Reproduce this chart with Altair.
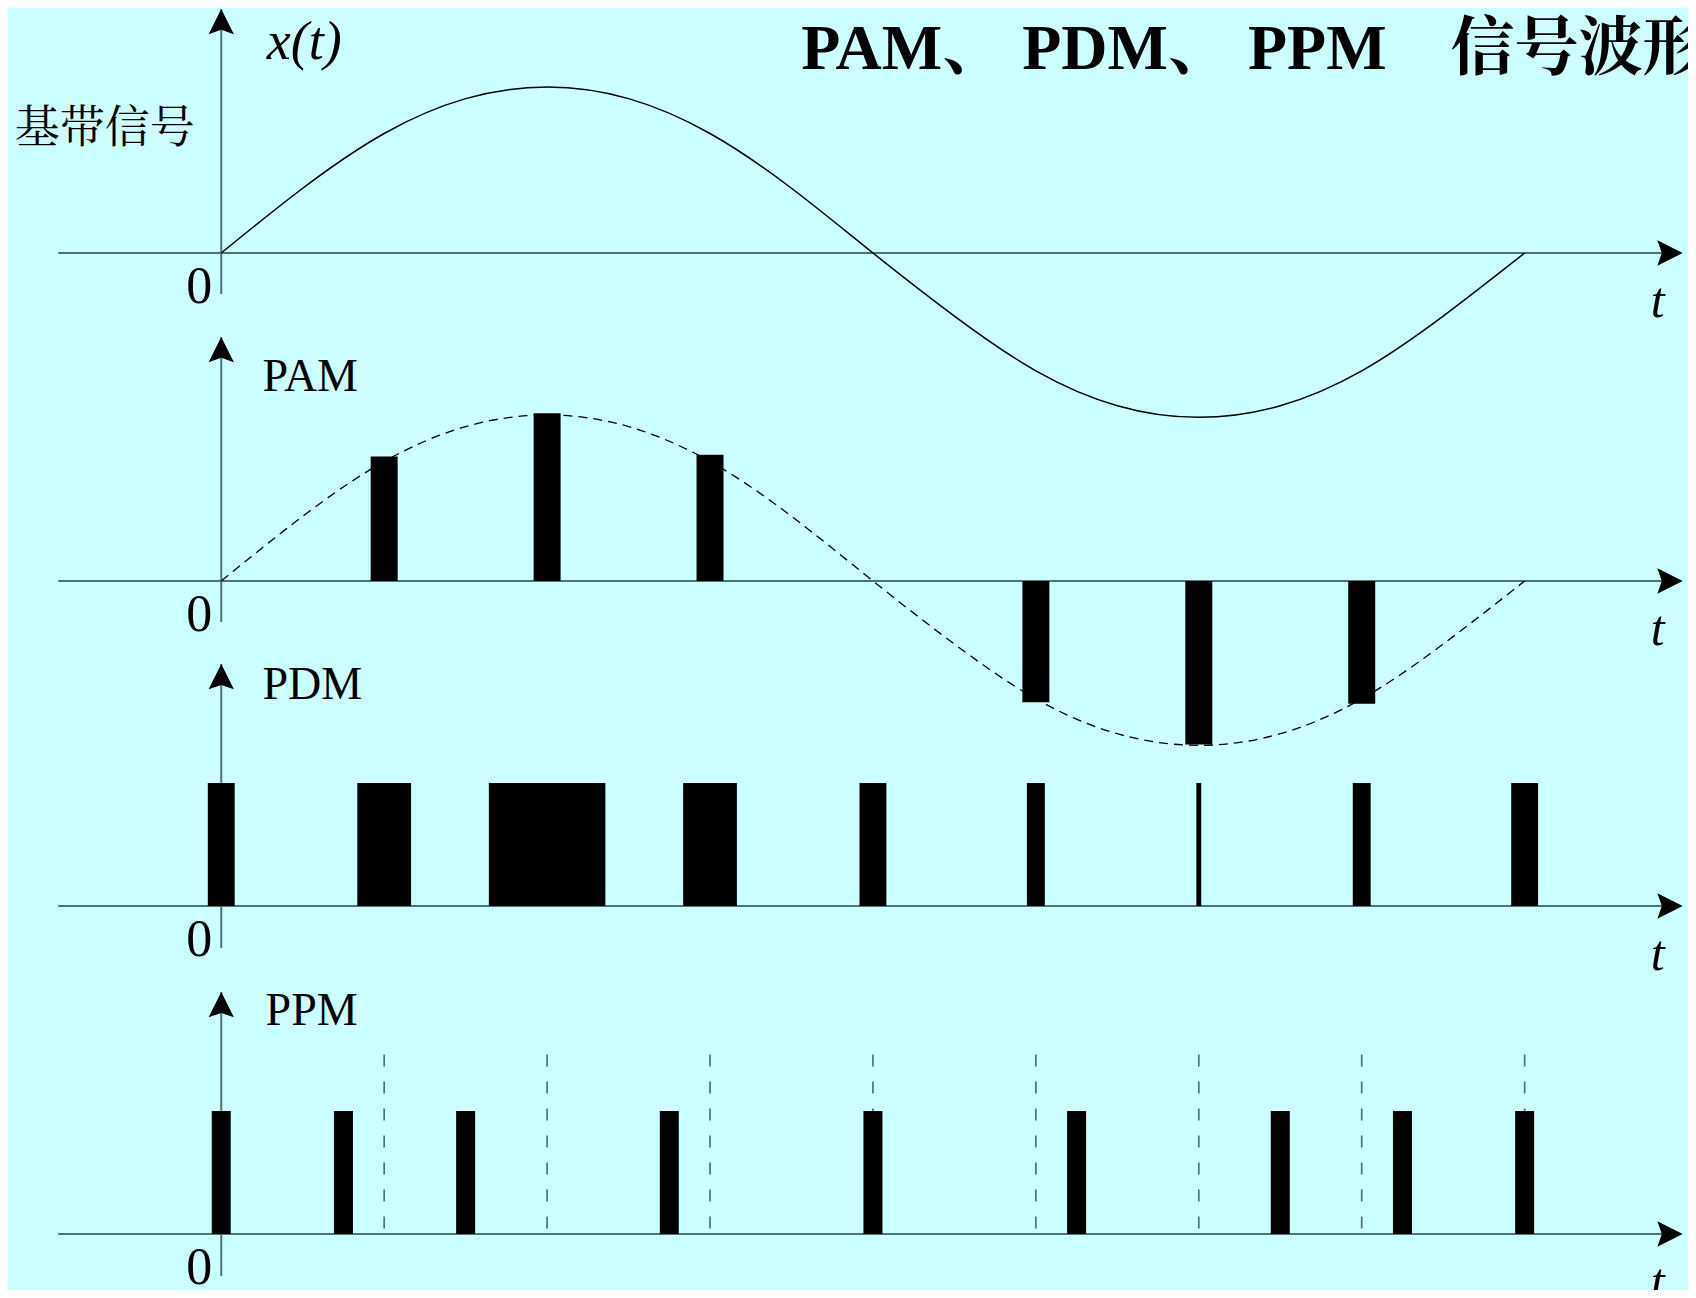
import altair as alt
import pandas as pd

# ---------------- data ----------------
# time axis in units of one sampling interval (T/8)
sig_k = [0, 0.5, 1, 1.5, 2, 2.5, 3, 3.5, 4, 4.5, 5, 5.5, 6, 6.5, 7, 7.5, 8]
sig_v = [0, 0.39, 0.72, 0.93, 1.0, 0.93, 0.72, 0.39, 0, -0.38, -0.71, -0.92, -0.99, -0.92, -0.71, -0.38, 0]

pam_k = [1, 2, 3, 5, 6, 7]
pam_v = [0.75, 1.01, 0.76, -0.73, -0.985, -0.74]

pdm_k = [0, 1, 2, 3, 4, 5, 6, 7, 8]
pdm_w = [0.165, 0.33, 0.715, 0.33, 0.165, 0.11, 0.03, 0.11, 0.165]
pdm_h = [1, 1, 1, 1, 1, 1, 1, 1, 1]

ppm_k = [0, 0.75, 1.5, 2.75, 4.0, 5.25, 6.5, 7.25, 8.0]
ppm_h = [1, 1, 1, 1, 1, 1, 1, 1, 1]

frame_k = [1, 2, 3, 4, 5, 6, 7, 8]
frame_top = [1.46] * 8

title_text = "PAM、 PDM、 PPM\u3000信号波形"
panel_labels = ["PAM", "PDM", "PPM"]

# ---------------- layout / style ----------------
W, H = 1680, 1282
X0_PX, PX_PER_K = 209.5, 163.9
XDOM = [-X0_PX / PX_PER_K, (W - X0_PX) / PX_PER_K]
BASE = [245, 573, 898, 1226]
UNIT = [166, 166, 123, 123]
AXIS_TOP = [1.47, 1.47, 1.967, 1.967]
AXIS_BOT = [-0.247, -0.247, -0.341, -0.341]
K_START, K_TIP = -1.0, 8.97

AX_COLOR = "#4d7474"
SERIF = "'Liberation Serif', 'Times New Roman', serif"
CJK = "'Liberation Serif', 'Noto Serif CJK SC', 'Noto Sans CJK SC', serif"
CJK_PLAIN = "'Noto Serif CJK SC', 'Noto Sans CJK SC', sans-serif"
ARROW_R = "M0,0L-2,-1L-1.65,0L-2,1Z"
ARROW_U = "M0,0L-1,2L0,1.65L1,2Z"
ARROW_SIZE = 640


def X(field):
    return alt.X(field, type="quantitative", scale=alt.Scale(domain=XDOM, nice=False, zero=False), axis=None)


def Y(i, field):
    b, s = BASE[i], UNIT[i]
    return alt.Y(field, type="quantitative",
                 scale=alt.Scale(domain=[-(H - b) / s, b / s], nice=False, zero=False), axis=None)


def axes(i):
    hl = pd.DataFrame({"k": [K_START], "k2": [K_TIP - 0.1], "v": [0]})
    vl = pd.DataFrame({"k": [0], "v": [AXIS_BOT[i]], "v2": [AXIS_TOP[i]]})
    ar = pd.DataFrame({"k": [K_TIP], "v": [0]})
    au = pd.DataFrame({"k": [0], "v": [AXIS_TOP[i]]})
    lab = pd.DataFrame({"k": [0], "v": [0], "txt": ["0"]})
    tl = pd.DataFrame({"k": [K_TIP], "v": [0], "txt": ["t"]})
    return [
        alt.Chart(hl).mark_rule(color=AX_COLOR, strokeWidth=2).encode(x=X("k"), x2="k2:Q", y=Y(i, "v")),
        alt.Chart(vl).mark_rule(color=AX_COLOR, strokeWidth=2).encode(x=X("k"), y=Y(i, "v"), y2="v2:Q"),
        alt.Chart(ar).mark_point(shape=ARROW_R, filled=True, size=ARROW_SIZE, color="black", opacity=1,
                                 strokeWidth=0).encode(x=X("k"), y=Y(i, "v")),
        alt.Chart(au).mark_point(shape=ARROW_U, filled=True, size=ARROW_SIZE, color="black", opacity=1,
                                 strokeWidth=0).encode(x=X("k"), y=Y(i, "v")),
        alt.Chart(lab).mark_text(font=SERIF, fontSize=52, dx=-22, dy=50, align="center",
                                 baseline="alphabetic", color="black").encode(x=X("k"), y=Y(i, "v"), text="txt:N"),
        alt.Chart(tl).mark_text(font=SERIF, fontSize=50, fontStyle="italic", dx=-25, dy=64, align="center",
                                baseline="alphabetic", color="black").encode(x=X("k"), y=Y(i, "v"), text="txt:N"),
    ]


sig = pd.DataFrame({"k": sig_k, "v": sig_v})

# ---- panel 1: baseband signal ----
p1_text = pd.DataFrame({"k": [0.28], "v": [1.169], "txt": ["x(t)"]})
p1_cn = pd.DataFrame({"k": [-1.267], "v": [0.747], "txt": ["基带信号"]})
p1_title = pd.DataFrame({"k": [3.56], "v": [1.108], "txt": [title_text]})
panel1 = alt.layer(
    *axes(0),
    alt.Chart(sig).mark_line(color="black", strokeWidth=1.5, interpolate="natural").encode(x=X("k"), y=Y(0, "v")),
    alt.Chart(p1_text).mark_text(font=SERIF, fontSize=54, fontStyle="italic", align="left",
                                 baseline="alphabetic", color="black").encode(x=X("k"), y=Y(0, "v"), text="txt:N"),
    alt.Chart(p1_cn).mark_text(font=CJK_PLAIN, fontSize=45, fontWeight="normal", align="left",
                               baseline="middle", color="black").encode(x=X("k"), y=Y(0, "v"), text="txt:N"),
    alt.Chart(p1_title).mark_text(font=CJK, fontSize=64, fontWeight="bold", align="left",
                                  baseline="alphabetic", color="black").encode(x=X("k"), y=Y(0, "v"), text="txt:N"),
)

# ---- panel 2: PAM ----
pam = pd.DataFrame({"k": pam_k, "v": pam_v, "zero": [0] * len(pam_k)})
lab2 = pd.DataFrame({"k": [0.2534], "v": [1.1416], "txt": [panel_labels[0]]})
panel2 = alt.layer(
    *axes(1),
    alt.Chart(sig).mark_line(color="black", strokeWidth=1.3, strokeDash=[9, 6], interpolate="natural").encode(
        x=X("k"), y=Y(1, "v")),
    alt.Chart(pam).mark_bar(size=27, color="black").encode(x=X("k"), y=Y(1, "v"), y2="zero:Q"),
    alt.Chart(lab2).mark_text(font=SERIF, fontSize=46, align="left", baseline="alphabetic",
                              color="black").encode(x=X("k"), y=Y(1, "v"), text="txt:N"),
)

# ---- panel 3: PDM ----
pdm = pd.DataFrame({"k": pdm_k, "w": pdm_w, "h": pdm_h, "zero": [0] * len(pdm_k)})
lab3 = pd.DataFrame({"k": [0.2534], "v": [1.683], "txt": [panel_labels[1]]})
panel3 = alt.layer(
    *axes(2),
    alt.Chart(pdm).transform_calculate(x0="datum.k - datum.w / 2", x1="datum.k + datum.w / 2")
    .mark_rect(color="black").encode(x=X("x0"), x2="x1:Q", y=Y(2, "h"), y2="zero:Q"),
    alt.Chart(lab3).mark_text(font=SERIF, fontSize=46, align="left", baseline="alphabetic",
                              color="black").encode(x=X("k"), y=Y(2, "v"), text="txt:N"),
)

# ---- panel 4: PPM ----
ppm = pd.DataFrame({"k": ppm_k, "h": ppm_h, "zero": [0] * len(ppm_k)})
frames = pd.DataFrame({"k": frame_k, "top": frame_top, "zero": [0] * len(frame_k)})
lab4 = pd.DataFrame({"k": [0.272], "v": [1.699], "txt": [panel_labels[2]]})
panel4 = alt.layer(
    *axes(3),
    alt.Chart(frames).mark_rule(color=AX_COLOR, strokeWidth=1.7, strokeDash=[12, 15]).encode(
        x=X("k"), y=Y(3, "top"), y2="zero:Q"),
    alt.Chart(ppm).mark_bar(size=19, color="black").encode(x=X("k"), y=Y(3, "h"), y2="zero:Q"),
    alt.Chart(lab4).mark_text(font=SERIF, fontSize=46, align="left", baseline="alphabetic",
                              color="black").encode(x=X("k"), y=Y(3, "v"), text="txt:N"),
)

chart = (
    alt.layer(panel1, panel2, panel3, panel4)
    .resolve_scale(y="independent")
    .properties(width=W, height=H, padding=0, autosize=alt.AutoSizeParams(type="none"))
    .configure(background="#CCFFFF")
    .configure_view(strokeWidth=0)
)

chart.save("out.html", embed_options={"renderer": "svg", "actions": False})
